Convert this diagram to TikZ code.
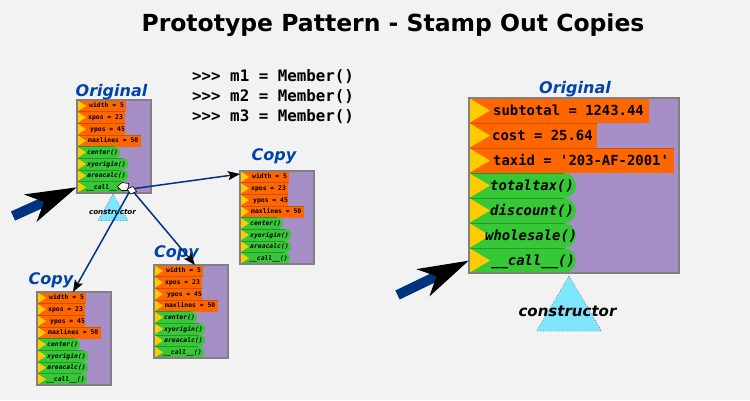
\documentclass[tikz,border=0pt]{standalone}
\usepackage{fontspec}
\setmainfont{DejaVu Sans}[BoldItalicFont={DejaVu Sans Bold Oblique},ItalicFont={DejaVu Sans Oblique}]
\setmonofont{DejaVu Sans Mono}[BoldItalicFont={DejaVu Sans Mono Bold Oblique},ItalicFont={DejaVu Sans Mono Oblique}]
\usetikzlibrary{arrows.meta,calc}
\definecolor{bgc}{RGB}{242,242,242}
\definecolor{pur}{RGB}{166,143,199}
\definecolor{org}{RGB}{255,102,0}
\definecolor{grn}{RGB}{55,200,55}
\definecolor{ylw}{RGB}{255,204,0}
\definecolor{lblue}{RGB}{0,68,170}
\definecolor{navy}{RGB}{0,51,128}
\definecolor{cyn}{RGB}{128,229,255}
\definecolor{frame}{RGB}{128,128,128}
\tikzset{
  frm/.style={draw=frame, line width=1.5pt, inner sep=0pt, outer sep=0pt},
  frmline/.style={draw=frame, line width=1.5pt},
  rowtext/.style={anchor=base west, inner sep=0pt},
  boxlabel/.style={anchor=base, inner sep=0pt, text=lblue, font=\bfseries\itshape\fontsize{16}{16}\selectfont},
  conn/.style={draw=navy, line width=1.5pt, -{Stealth[length=12pt,width=9pt,inset=2.5pt,color=black]}},
  bigarrow/.style={draw=navy, line width=10pt, -{Stealth[length=50pt,width=29pt,inset=14pt,color=black]}},
  ctri/.style={fill=cyn, draw=black!55, dotted, line width=0.7pt},
  marker/.style={fill=white, draw=black, line width=0.6pt},
}
\newcommand\protobox[8]{% #1 name, #2 x, #3 y, #4 w, #5 h, #6 row h, #7 tri w, #8 font size
\begin{scope}[shift={(#2,#3)}]
  \node[frm, fill=pur, minimum width=#4pt, minimum height=#5pt, anchor=north west] (#1) at (0,0) {};
  \pgfmathsetmacro\rr{#6/2}
  \foreach \k/\l/\o/\t [count=\i from 0] in \protorows {
    \pgfmathsetmacro\ya{\i*#6}
    \pgfmathsetmacro\yb{(\i+1)*#6}
    \pgfmathsetmacro\ym{(\i+0.5)*#6}
    \coordinate (#1-r\i) at (0,\ym);
    \ifnum\k=0
      \fill[org] (0,\ya) rectangle (\l,\yb);
      \draw[org!80!black, line width=0.3pt] (0,\ya) -- (\l,\ya);
      \fill[ylw] (0,\ya) -- (#7,\ym) -- (0,\yb) -- cycle;
      \node[rowtext, font=\ttfamily\bfseries\fontsize{#8}{#8}\selectfont] (#1-t\i) at (\o,\ym+0.34*#8) {\t};
    \else
      \fill[grn, rounded corners=\rr pt] (0,\ya) rectangle (\l,\yb);
      \fill[grn] (0,\ya) rectangle (\l-\rr,\yb);
      \draw[grn!75!black, line width=0.3pt] (0,\ya) -- (\l-\rr,\ya);
      \fill[ylw] (0,\ya) -- (#7,\ym) -- (0,\yb) -- cycle;
      \node[rowtext, font=\ttfamily\bfseries\itshape\fontsize{#8}{#8}\selectfont] (#1-t\i) at (\o,\ym+0.34*#8) {\t};
    \fi
  }
  \draw[frmline] (#1.north west) rectangle (#1.south east);
\end{scope}}
\begin{document}
\begin{tikzpicture}[x=1pt,y=-1pt]
\fill[bgc] (0,0) rectangle (750,400);
\useasboundingbox (0,0) rectangle (750,400);

\node[anchor=base, inner sep=0pt, font=\bfseries\fontsize{23.5}{23.5}\selectfont] (title) at (393,31.7) {Prototype Pattern - Stamp Out Copies};

\node[anchor=base west, inner sep=0pt, font=\ttfamily\bfseries\fontsize{15.8}{15.8}\selectfont] (code1) at (192,81.7) {>>> m1 = Member()};
\node[anchor=base west, inner sep=0pt, font=\ttfamily\bfseries\fontsize{15.8}{15.8}\selectfont] (code2) at (192,101.5) {>>> m2 = Member()};
\node[anchor=base west, inner sep=0pt, font=\ttfamily\bfseries\fontsize{15.8}{15.8}\selectfont] (code3) at (192,121) {>>> m3 = Member()};

% small boxes
\def\protorows{0/49/12/width = 5,0/48/11/xpos = 23,0/48/13/ypos = 45,0/64/11/maxlines = 50,1/43/10/center(),1/51/10/xyorigin(),1/51/10/areacalc(),1/50/9/\_\_call\_\_()}
\protobox{orig}{77}{100}{74}{93}{11.625}{9}{6.4}
\protobox{copyA}{240}{171}{74}{93}{11.625}{9}{6.4}
\protobox{copyB}{154}{265}{74}{93}{11.625}{9}{6.4}
\protobox{copyC}{37}{292}{74}{93}{11.625}{9}{6.4}

% large box
\def\protorows{0/180/24/subtotal = 1243.44,0/128/23/cost = 25.64,0/205/24/taxid = '203-AF-2001',1/107/21/totaltax(),1/107/21/discount(),1/107/16/wholesale(),1/107/22/\_\_call\_\_()}
\protobox{big}{469}{98}{210}{175}{25}{21}{13.9}

% labels
\node[boxlabel] (lorig) at (111.5,96) {Original};
\node[boxlabel] (lbig) at (575,93.3) {Original};
\node[boxlabel] (lcopyA) at (274,160.7) {Copy};
\node[boxlabel] (lcopyB) at (176.5,257.3) {Copy};
\node[boxlabel] (lcopyC) at (51,284) {Copy};

% constructor triangles
\fill[ctri] (113,194) -- (128,220.5) -- (98,220.5) -- cycle;
\node[anchor=base, inner sep=0pt, font=\bfseries\itshape\fontsize{7.2}{7.2}\selectfont] (csmall) at (112.5,214) {constructor};
\fill[ctri] (569,276) -- (601.5,331) -- (536.5,331) -- cycle;
\node[anchor=base, inner sep=0pt, font=\bfseries\itshape\fontsize{15}{15}\selectfont] (cbig) at (567.5,316) {constructor};

% connectors to copies
\coordinate (src) at (131,189);
\draw[conn] (src) -- ($(copyA.north west)+(0,3)$);
\draw[conn] (src) -- ($(copyB.north west)+(41,0)$);
\draw[conn] (src) -- ($(copyC.north west)+(36,0)$);
\filldraw[marker] (117.5,186.5) -- (122,182.5) -- (128.5,183.5) -- (128,190.5) -- (121.5,190.5) -- cycle;
\filldraw[marker] (127,189) -- (133,186.5) -- (136.5,191.5) -- (130.5,194) -- cycle;

% big arrows
\coordinate (tailS) at (13,216);
\coordinate (tailL) at (397.5,295);
\draw[bigarrow] (tailS) -- (orig-r7);
\draw[bigarrow] (tailL) -- (big-r6);
\end{tikzpicture}
\end{document}
